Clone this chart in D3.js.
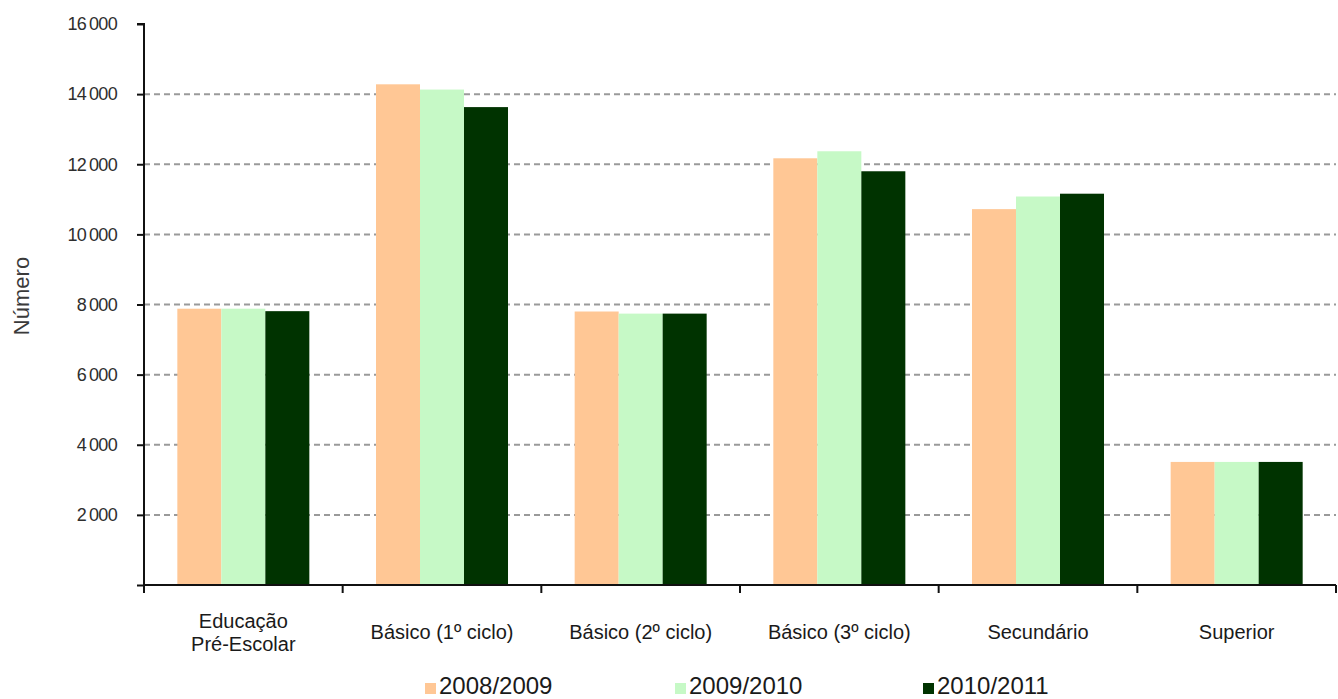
<!DOCTYPE html>
<html>
<head>
<meta charset="utf-8">
<script src="https://cdn.jsdelivr.net/npm/d3@7"></script>
<style>
  html, body { margin: 0; padding: 0; background: #fff; }
  svg { display: block; font-family: "Liberation Sans", Arial, sans-serif; }
</style>
</head>
<body>
<svg id="chart" width="1338" height="699"></svg>
<script>
const categories = [["Educação", "Pré-Escolar"], ["Básico (1º ciclo)"], ["Básico (2º ciclo)"], ["Básico (3º ciclo)"], ["Secundário"], ["Superior"]];
const seriesNames = ["2008/2009", "2009/2010", "2010/2011"];
const values2008 = [7880, 14280, 7800, 12170, 10720, 3510];
const values2009 = [7880, 14130, 7740, 12370, 11080, 3510];
const values2010 = [7810, 13630, 7740, 11800, 11160, 3510];
const yTicks = [0, 2000, 4000, 6000, 8000, 10000, 12000, 14000, 16000];
const colors = ["#ffc795", "#c6f9c6", "#003300"];

const seriesValues = [values2008, values2009, values2010];
const catKeys = categories.map(c => c.join(" "));

const svg = d3.select("#chart");
const plotLeft = 144, plotRight = 1336, plotTop = 24, plotBottom = 585;

const x0 = d3.scaleBand().domain(catKeys).range([plotLeft, plotRight]).padding(0);
const x1 = d3.scaleBand().domain(seriesNames).range([0, x0.bandwidth()]).paddingInner(0).paddingOuter(0.7575);
const y = d3.scaleLinear().domain([0, 16000]).range([plotBottom, plotTop]);

const fmt = d3.formatLocale({ decimal: ",", thousands: "\u2009", grouping: [3], currency: ["", ""] }).format(",d");

// gridlines
svg.append("g").selectAll("line")
  .data(yTicks.filter(t => t > 0 && t < 16000))
  .join("line")
  .attr("x1", plotLeft).attr("x2", plotRight)
  .attr("y1", d => y(d)).attr("y2", d => y(d))
  .attr("stroke", "#9a9a9a").attr("stroke-width", 2)
  .attr("stroke-dasharray", "6,4");

// bars
const groups = svg.append("g").selectAll("g")
  .data(catKeys)
  .join("g")
  .attr("transform", d => `translate(${x0(d)},0)`);

groups.selectAll("rect")
  .data((d, i) => seriesNames.map((s, j) => ({ s, j, v: seriesValues[j][i] })))
  .join("rect")
  .attr("x", d => x1(d.s))
  .attr("width", x1.bandwidth())
  .attr("y", d => y(d.v))
  .attr("height", d => y(0) - y(d.v))
  .attr("fill", d => colors[d.j]);

// y axis
const yAxis = d3.axisLeft(y).tickValues(yTicks).tickSize(7).tickPadding(20)
  .tickFormat(d => d === 0 ? "" : fmt(d));
const gy = svg.append("g").attr("transform", `translate(${plotLeft},0)`).call(yAxis);
gy.select(".domain").attr("stroke", "#111").attr("stroke-width", 2).attr("d", `M-7,${plotTop}H0V${plotBottom}`);
gy.selectAll(".tick line").attr("stroke", "#111").attr("stroke-width", 2);
gy.selectAll(".tick text").attr("font-size", 18).attr("fill", "#2e2e2e").attr("letter-spacing", "-0.7px")
  .attr("font-family", "'Liberation Sans', Arial, sans-serif");

// x axis
svg.append("line").attr("x1", plotLeft).attr("x2", plotRight).attr("y1", plotBottom).attr("y2", plotBottom)
  .attr("stroke", "#111").attr("stroke-width", 2);
const boundaries = catKeys.map(k => x0(k)).concat([x0(catKeys[catKeys.length - 1]) + x0.bandwidth()]);
svg.append("g").selectAll("line").data(boundaries).join("line")
  .attr("x1", d => d).attr("x2", d => d)
  .attr("y1", plotBottom).attr("y2", plotBottom + 8)
  .attr("stroke", "#111").attr("stroke-width", 2);

// category labels
const labels = svg.append("g").selectAll("text")
  .data(categories)
  .join("text")
  .attr("text-anchor", "middle")
  .attr("font-size", 20)
  .attr("fill", "#1a1a1a")
  .attr("x", (d, i) => x0(catKeys[i]) + x0.bandwidth() / 2)
  .attr("y", d => d.length > 1 ? 628 : 639);
labels.selectAll("tspan")
  .data(d => d)
  .join("tspan")
  .attr("x", function () { return d3.select(this.parentNode).attr("x"); })
  .attr("dy", (d, i) => i === 0 ? 0 : 23)
  .text(d => d);

// y title
svg.append("text")
  .attr("transform", "translate(29,296) rotate(-90)")
  .attr("text-anchor", "middle")
  .attr("font-size", 22)
  .attr("fill", "#3a3a3a")
  .text("Número");

// legend
const legendX = [425, 675, 923];
const legend = svg.append("g").selectAll("g")
  .data(seriesNames)
  .join("g")
  .attr("transform", (d, i) => `translate(${legendX[i]},0)`);
legend.append("rect").attr("x", 0).attr("y", 683).attr("width", 11).attr("height", 11)
  .attr("fill", (d, i) => colors[i]);
legend.append("text").attr("x", 14).attr("y", 694)
  .attr("font-size", 24).attr("fill", "#1a1a1a")
  .text(d => d);
</script>
</body>
</html>
